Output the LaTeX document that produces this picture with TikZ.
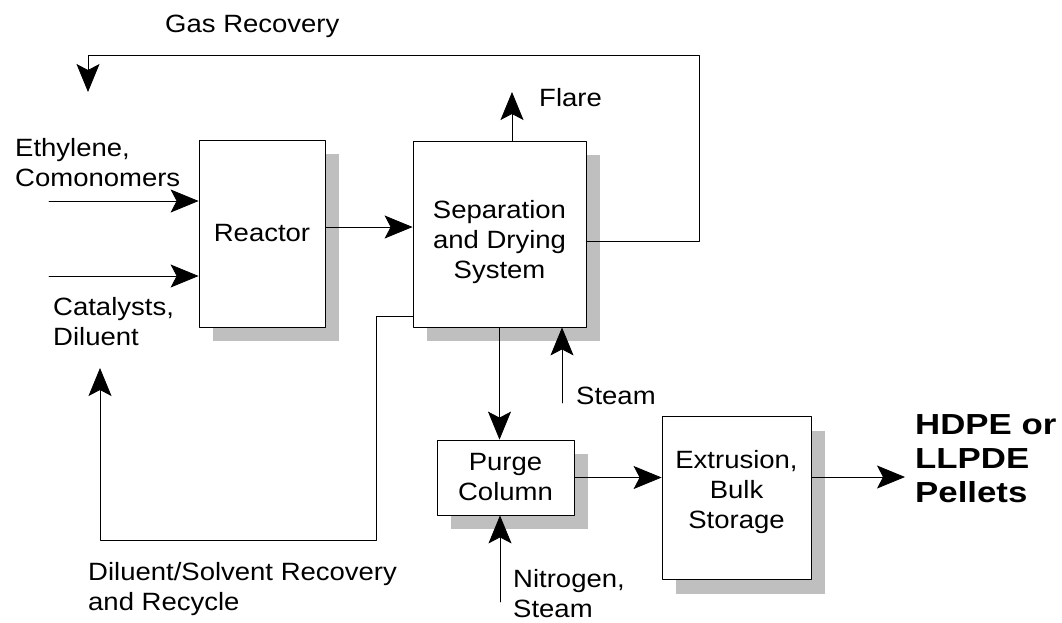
\documentclass[tikz,border=0pt]{standalone}
\usepackage{fontspec}
\setmainfont{Liberation Sans}[FakeStretch=1.1]
\newfontfamily\pelletfont{Liberation Sans}[FakeStretch=1.2]
\usetikzlibrary{arrows.meta,shadows}

\begin{document}
\begin{tikzpicture}[line cap=round,line join=round,>={Stealth[length=28pt,width=23pt,inset=6pt]},x=1pt,y=-1pt,
	font=\fontsize{25}{30}\selectfont,
	flowbox/.style={draw,line width=0.8pt,fill=white,align=center,inner sep=0pt,
		drop shadow={shadow xshift=14pt,shadow yshift=-14pt,fill=gray!50,opacity=1}},
	flowlabel/.style={anchor=north west,align=left,inner sep=0pt},
	stream/.style={line width=0.8pt,->}]
			\useasboundingbox (0,0) rectangle (1062,622);
			% process units
			\node [flowbox,minimum width=126pt,minimum height=187pt] (reactor) at (262,233.5) {Reactor};
			\node [flowbox,minimum width=173pt,minimum height=186pt] (sep) at (499.5,234) {\rule{0pt}{34pt}Separation\\and Drying\\System};
			\node [flowbox,minimum width=137pt,minimum height=75pt] (purge) at (505.5,477.5) {Purge\\Column};
			\node [flowbox,minimum width=149pt,minimum height=163pt] (extr) at (736.5,498) {Extrusion,\\Bulk\\Storage\rule[-17pt]{0pt}{0pt}};
			% stream labels
			\node [flowlabel] (gaslbl) at (165,15) {Gas Recovery};
			\node [flowlabel] (ethlbl) at (15,138) {Ethylene,\\Comonomers};
			\node [flowlabel] (catlbl) at (53,297) {Catalysts,\\Diluent};
			\node [flowlabel] (flarelbl) at (539,88) {Flare};
			\node [flowlabel] (steamlbl) at (576,387) {Steam};
			\node [flowlabel] (nitlbl) at (513,569) {Nitrogen,\\Steam};
			\node [flowlabel] (dillbl) at (88,562) {Diluent/Solvent Recovery\\and Recycle};
			\node [flowlabel,font=\pelletfont\bfseries\fontsize{29}{34}\selectfont] (pellets) at (915,414) {HDPE or\\LLPDE\\Pellets};
			% stream ends
			\coordinate (ethin) at (49,201);
			\coordinate (catin) at (49,276);
			\coordinate (flareout) at (512,92);
			\coordinate (gasturn) at (699,55);
			\coordinate (gasout) at (88,92);
			\coordinate (dilturn) at (376,540);
			\coordinate (dilout) at (100,368);
			\coordinate (steamin) at (562,403);
			\coordinate (nitin) at (500,602);
			\coordinate (pelletout) at (905,477);
			\coordinate (r2s) at ([yshift=6.5pt]reactor.east);
			\coordinate (gasin) at ([yshift=-7pt]sep.east);
			\coordinate (dilin) at ([yshift=-82pt]sep.west);
			% streams
			\draw [stream] (ethin) -- (ethin -| reactor.west);
			\draw [stream] (catin) -- (catin -| reactor.west);
			\draw [stream] (r2s) -- (r2s -| sep.west);
			\draw [stream] (flareout |- sep.north) -- (flareout);
			\draw [stream] (gasin) -| (gasturn) -| (gasout);
			\draw [stream] (dilin) -| (dilturn) -| (dilout);
			\draw [stream] (sep.south) -- (sep.south |- purge.north);
			\draw [stream] (steamin) -- (steamin |- sep.south);
			\draw [stream] (nitin) -- (nitin |- purge.south);
			\draw [stream] (purge.east) -- (purge.east -| extr.west);
			\draw [stream] (pelletout -| extr.east) -- (pelletout);
		\end{tikzpicture}
\end{document}
